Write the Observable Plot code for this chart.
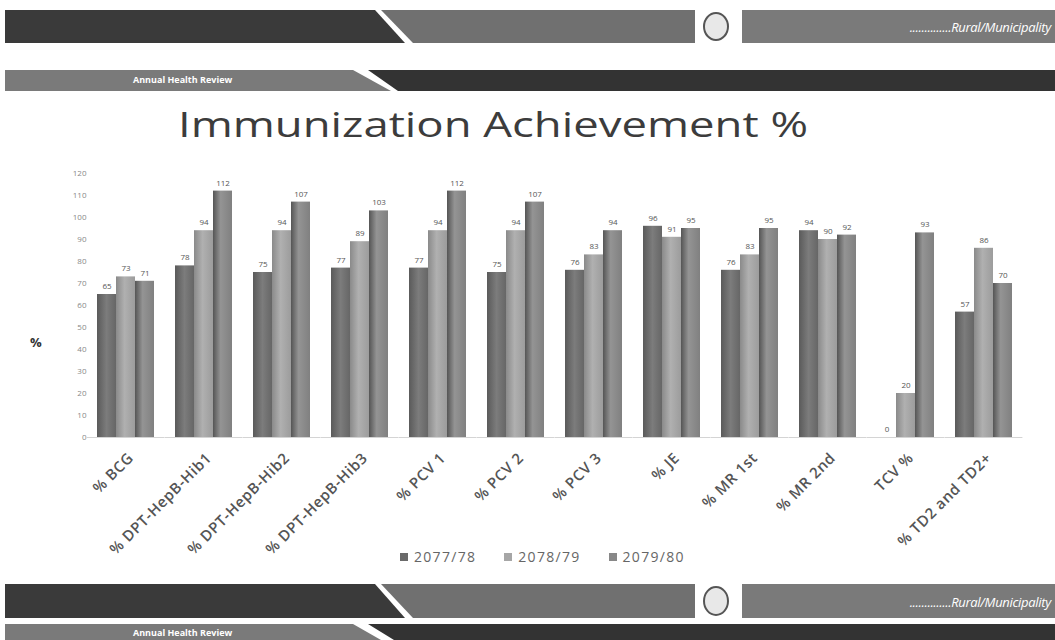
<!DOCTYPE html>
<html><head><meta charset="utf-8">
<script src="https://cdn.jsdelivr.net/npm/d3@7"></script>
<script src="https://cdn.jsdelivr.net/npm/@observablehq/plot@0.6"></script>
<style>
body{margin:0;width:1055px;height:640px;position:relative;overflow:hidden;background:#fff;font-family:"Open Sans",sans-serif}
.band{position:absolute}
#title{position:absolute;left:178px;top:101px;font-size:34px;font-weight:400;color:#3c3c3c;white-space:nowrap;transform-origin:0 0;line-height:normal}
#chart{position:absolute;left:0;top:160px}
#legend{position:absolute;left:400px;top:547px;font-size:14px;letter-spacing:1.3px;color:#666;white-space:nowrap;display:flex;gap:28px;align-items:center}
#legend span.sw{display:inline-block;width:8px;height:8px;margin-right:6px;vertical-align:middle;position:relative;top:-1px}
#pct{position:absolute;left:30px;top:333px;font-size:13px;font-weight:700;color:#333}
.ttl{position:absolute;color:#fff;white-space:nowrap}
</style></head><body>
<svg width="0" height="0" style="position:absolute">
  <defs>
    <linearGradient id="g0" x1="0" x2="1" y1="0" y2="0">
      <stop offset="0" stop-color="#5a5a5a"/><stop offset="0.5" stop-color="#7c7c7c"/><stop offset="1" stop-color="#666"/>
    </linearGradient>
    <linearGradient id="g1" x1="0" x2="1" y1="0" y2="0">
      <stop offset="0" stop-color="#8a8a8a"/><stop offset="0.45" stop-color="#b0b0b0"/><stop offset="1" stop-color="#9c9c9c"/>
    </linearGradient>
    <linearGradient id="g2" x1="0" x2="1" y1="0" y2="0">
      <stop offset="0" stop-color="#555"/><stop offset="0.4" stop-color="#949494"/><stop offset="1" stop-color="#808080"/>
    </linearGradient>
  </defs>
</svg>

<!-- top header bands -->
<div class="band" style="left:5px;top:10px;width:400px;height:33px;background:#3a3a3a;clip-path:polygon(0 0,370px 0,400px 100%,0 100%)"></div>
<div class="band" style="left:381px;top:10px;width:314px;height:33px;background:#707070;clip-path:polygon(0 0,100% 0,100% 100%,32px 100%)"></div>
<div class="band" style="left:703px;top:12px;width:26px;height:29px;border-radius:50%;background:#e8e8e8;border:2px solid #555;box-sizing:border-box"></div>
<div class="band" style="left:742px;top:10px;width:313px;height:33px;background:#7a7a7a"></div>
<div class="ttl" style="right:4px;top:18px;font-size:13px;font-style:italic;letter-spacing:-0.3px">..............Rural/Municipality</div>

<div class="band" style="left:5px;top:70px;width:390px;height:21px;background:#7a7a7a;clip-path:polygon(0 0,348px 0,386px 100%,0 100%)"></div>
<div class="band" style="left:368px;top:70px;width:687px;height:21px;background:#333;clip-path:polygon(0 0,100% 0,100% 100%,30px 100%)"></div>
<div class="ttl" style="left:133px;top:73px;font-size:9px;font-weight:700">Annual Health Review</div>

<!-- bottom bands -->
<div class="band" style="left:5px;top:584px;width:400px;height:34px;background:#3a3a3a;clip-path:polygon(0 0,370px 0,400px 100%,0 100%)"></div>
<div class="band" style="left:381px;top:584px;width:314px;height:34px;background:#707070;clip-path:polygon(0 0,100% 0,100% 100%,32px 100%)"></div>
<div class="band" style="left:703px;top:586px;width:26px;height:30px;border-radius:50%;background:#e8e8e8;border:2px solid #555;box-sizing:border-box"></div>
<div class="band" style="left:742px;top:584px;width:313px;height:34px;background:#7a7a7a"></div>
<div class="ttl" style="right:4px;top:593px;font-size:13px;font-style:italic;letter-spacing:-0.3px">..............Rural/Municipality</div>

<div class="band" style="left:5px;top:624px;width:390px;height:16px;background:#7a7a7a;clip-path:polygon(0 0,348px 0,376px 100%,0 100%)"></div>
<div class="band" style="left:368px;top:624px;width:687px;height:16px;background:#333;clip-path:polygon(0 0,100% 0,100% 100%,26px 100%)"></div>
<div class="ttl" style="left:133px;top:626px;font-size:9px;font-weight:700">Annual Health Review</div>

<div id="title">Immunization Achievement %</div>
<div id="pct">%</div>
<div id="chart"></div>
<div id="legend"></div>

<script>
const categories = ["% BCG","% DPT-HepB-Hib1","% DPT-HepB-Hib2","% DPT-HepB-Hib3","% PCV 1","% PCV 2","% PCV 3","% JE","% MR 1st","% MR 2nd","TCV %","% TD2 and TD2+"];
const years = ["2077/78","2078/79","2079/80"];
const v2077_78 = [65,78,75,77,77,75,76,96,76,94,0,57];
const v2078_79 = [73,94,94,89,94,94,83,91,83,90,20,86];
const v2079_80 = [71,112,107,103,112,107,94,95,95,92,93,70];
const yTicks = [0,10,20,30,40,50,60,70,80,90,100,110,120];
const fills = ["url(#g0)","url(#g1)","url(#g2)"];
const swatches = ["#6a6a6a","#a6a6a6","#888888"];

const series = [v2077_78, v2078_79, v2079_80];
const data = [];
categories.forEach((c, i) => years.forEach((y, j) => data.push({cat: c, year: y, value: series[j][i]})));

const chart = Plot.plot({
  width: 1055,
  height: 417,
  marginTop: 13,
  marginBottom: 140,
  marginLeft: 95,
  marginRight: 40,
  style: {background: "transparent", fontFamily: "'Open Sans', sans-serif"},
  fx: {domain: categories, padding: 0.24, label: null},
  x: {domain: years, padding: 0, axis: null},
  y: {domain: [0, 120], label: null},
  color: {domain: years, range: fills},
  marks: [
    Plot.axisY({ticks: yTicks, tickSize: 0, tickPadding: 10, fontSize: 8, fill: "#888", label: null}),
    Plot.axisFx({anchor: "bottom", tickSize: 0, tickPadding: 18, tickRotate: -45, fontSize: 15, fontWeight: 600, fill: "#555", label: null, dx: 5}),
    Plot.ruleY([0], {stroke: "#d4d4d4", strokeWidth: 1.2, insetLeft: -9.4, insetRight: -9.4}),
    Plot.barY(data, {fx: "cat", x: "year", y: "value", fill: "year"}),
    Plot.text(data, {fx: "cat", x: "year", y: "value", text: d => String(d.value), dy: -8, fontSize: 8, fill: "#555", stroke: "white", strokeWidth: 3, paintOrder: "stroke"})
  ]
});
chart.querySelectorAll('g[aria-label="fx-axis tick label"] text').forEach(t => t.style.letterSpacing = "0.6px");
document.getElementById("chart").appendChild(chart);

const leg = document.getElementById("legend");
years.forEach((y, j) => {
  const it = document.createElement("div");
  it.innerHTML = `<span class="sw" style="background:${swatches[j]}"></span>${y}`;
  leg.appendChild(it);
});

const t = document.getElementById("title");
const w = t.getBoundingClientRect().width;
t.style.transform = `scaleX(${630 / w})`;
</script>
</body></html>
